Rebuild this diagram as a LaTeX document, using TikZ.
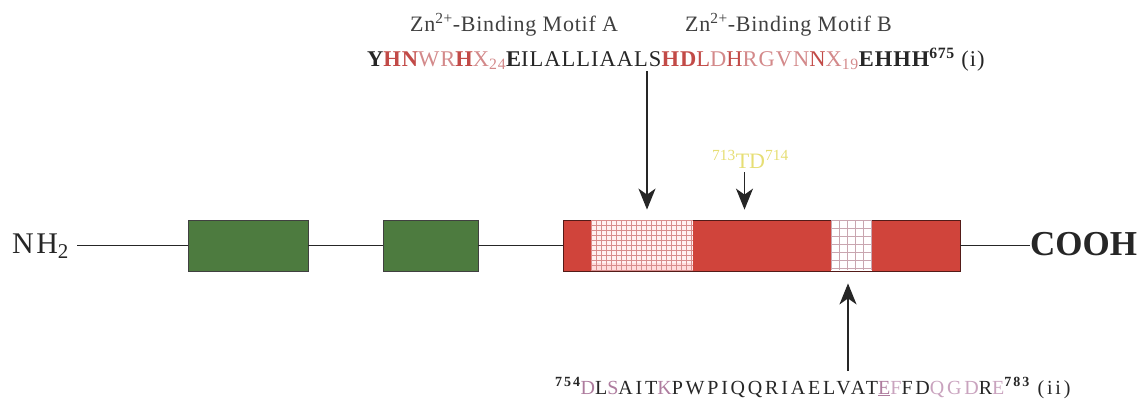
\documentclass[tikz,border=0pt]{standalone}
\usepackage{fontspec}
\setmainfont{Liberation Serif}
\usetikzlibrary{arrows.meta,calc}
\definecolor{rd}{HTML}{C24A47}
\definecolor{pk}{HTML}{D3898A}
\definecolor{mv}{HTML}{AE7C9E}
\definecolor{lmv}{HTML}{C9A3BE}
\definecolor{yl}{HTML}{E6DE74}
\definecolor{tx}{HTML}{262626}
\definecolor{gbox}{HTML}{4D7B3F}
\definecolor{rbar}{HTML}{D0443B}
\definecolor{hatchA}{HTML}{D88C8C}
\definecolor{hatchB}{HTML}{C9A6B0}
\tikzset{
  greenbox/.style={draw=black!75, line width=0.8bp, fill=gbox},
  redbar/.style={draw=black!60!rbar, line width=0.8bp, fill=rbar},
  backbone/.style={line width=1.7bp, black!85},
  pointer/.style={line width=1.6bp, black!85, -{Stealth[length=21bp,width=17bp,inset=6bp]}},
  seqtext/.style={anchor=base west, inner sep=0pt, text=tx},
  lbltext/.style={anchor=base west, inner sep=0pt, font={\fontsize{22bp}{26bp}\selectfont\addfontfeatures{LetterSpace=3.5}}, text=black!75},
  termtext/.style={anchor=base west, inner sep=0pt, text=black!85},
}
\begin{document}
\begin{tikzpicture}[x=1bp,y=-1bp]
\useasboundingbox (0,0) rectangle (1141,399);
% chain
\node[termtext, font={\fontsize{30bp}{34bp}\selectfont\addfontfeatures{LetterSpace=8}}] (nh2) at (12,253) {NH\textsubscript{2}};
\node[termtext, font=\fontsize{35bp}{40bp}\selectfont\bfseries] (cooh) at (1030,255) {COOH};
\node[greenbox, minimum width=120bp, minimum height=51bp, inner sep=0pt] (g1) at (248,245.5) {};
\node[greenbox, minimum width=95bp, minimum height=51bp, inner sep=0pt] (g2) at (430.5,245.5) {};
\node[redbar, minimum width=397bp, minimum height=51bp, inner sep=0pt] (bar) at (761.5,245.5) {};
\coordinate (n0) at (77,245.5);
\draw[backbone] (n0) -- (g1.west);
\draw[backbone] (g1.east) -- (g2.west);
\draw[backbone] (g2.east) -- (bar.west);
\draw[backbone] (bar.east) -- (cooh.west |- bar.east);
% hatched region A
\node[inner sep=0pt, minimum width=102bp, minimum height=50bp, fill=red!6] (hA) at (642,245.5) {};
\begin{scope}
\clip (hA.south west) rectangle (hA.north east);
\fill[red!14] ($(hA.south west)+(0,-8)$) rectangle (hA.south east);
\foreach \i in {0,5,...,105} \draw[hatchA, line width=0.5bp] ($(hA.north west)+(\i,0)$) -- ++(0,50);
\foreach \j in {0,5,...,50} \draw[hatchA, line width=0.5bp] ($(hA.north west)+(0,\j)$) -- ++(102,0);
\end{scope}
% hatched region B
\node[inner sep=0pt, minimum width=41bp, minimum height=50bp, fill=white] (hB) at (851.5,245.5) {};
\begin{scope}
\clip (hB.south west) rectangle (hB.north east);
\foreach \i in {0,8,...,48} \draw[hatchB, line width=0.6bp] ($(hB.north west)+(\i,0)$) -- ++(0,50);
\foreach \j in {0,8,...,56} \draw[hatchB, line width=0.6bp] ($(hB.north west)+(0,\j)$) -- ++(41,0);
\end{scope}
% labels
\node[lbltext] (motifA) at (410,31) {Zn\textsuperscript{2+}-Binding Motif A};
\node[lbltext] (motifB) at (685,31) {Zn\textsuperscript{2+}-Binding Motif B};
\node[seqtext, font={\fontsize{22.5bp}{26bp}\selectfont\addfontfeatures{LetterSpace=4.5}}] (seqi) at (367,66) {{\bfseries Y}\textcolor{rd}{\bfseries HN}\textcolor{pk}{WR}\textcolor{rd}{\bfseries H}\textcolor{pk}{X\textsubscript{24}}{\bfseries E}ILALLIAALS\textcolor{rd}{\bfseries HD}\textcolor{rd}{L}\textcolor{pk}{D}\textcolor{rd}{H}\textcolor{pk}{RGVN}\textcolor{rd}{N}\textcolor{pk}{X\textsubscript{19}}{\bfseries EHHH\textsuperscript{675}} (i)};
\node[seqtext, text=yl, font=\fontsize{22bp}{26bp}\selectfont] (td) at (712,168) {\textsuperscript{713}TD\textsuperscript{714}};
\node[seqtext, font={\fontsize{20bp}{24bp}\selectfont\addfontfeatures{LetterSpace=14}}] (seqii) at (555,394) {\textsuperscript{\bfseries 754}\textcolor{mv}{D}L\textcolor{mv}{S}AIT\textcolor{mv}{K}PWPIQQRIAELVAT\textcolor{mv}{\underline{E}}\textcolor{lmv}{F}FD\textcolor{lmv}{QGD}R\textcolor{lmv}{E}\textsuperscript{\bfseries 783} (ii)};
% pointers
\coordinate (sA) at (647,71);
\coordinate (sT) at (744.5,172);
\coordinate (sB) at (848,371);
\draw[pointer, shorten >=10bp] (sA) -- (sA |- bar.north);
\draw[pointer, shorten >=10bp] (sT) -- (sT |- bar.north);
\draw[pointer, shorten >=12bp] (sB) -- (sB |- bar.south);
\end{tikzpicture}
\end{document}
